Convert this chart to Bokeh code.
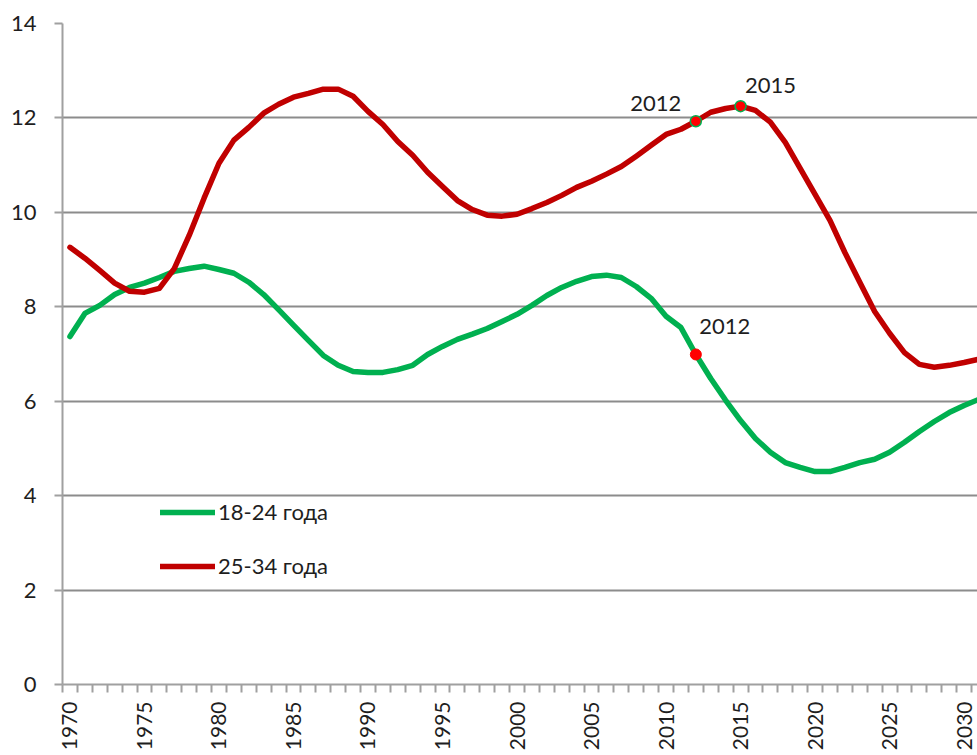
from bokeh.plotting import figure
from bokeh.models import Range1d, FixedTicker, Legend, LegendItem, ColumnDataSource
from bokeh.core.properties import value
from bokeh.embed import file_html
from bokeh.resources import INLINE
import math

years = list(range(1970, 2032))
age_18_24 = [7.37, 7.86, 8.03, 8.26, 8.41, 8.50, 8.62, 8.75, 8.81, 8.86,
             8.79, 8.71, 8.52, 8.26, 7.94, 7.61, 7.29, 6.97, 6.76, 6.63,
             6.61, 6.61, 6.67, 6.76, 6.99, 7.16, 7.31, 7.42, 7.54, 7.69,
             7.84, 8.03, 8.24, 8.41, 8.54, 8.64, 8.67, 8.62, 8.43, 8.18,
             7.80, 7.56, 6.99, 6.48, 6.02, 5.59, 5.21, 4.92, 4.70, 4.60,
             4.51, 4.51, 4.60, 4.70, 4.77, 4.92, 5.13, 5.36, 5.57, 5.76,
             5.91, 6.04]
age_25_34 = [9.26, 9.03, 8.77, 8.50, 8.33, 8.31, 8.39, 8.81, 9.51, 10.30,
             11.04, 11.53, 11.80, 12.10, 12.29, 12.44, 12.52, 12.61, 12.61, 12.46,
             12.14, 11.86, 11.50, 11.21, 10.85, 10.55, 10.25, 10.06, 9.94, 9.92,
             9.96, 10.08, 10.21, 10.36, 10.53, 10.66, 10.81, 10.97, 11.19, 11.42,
             11.65, 11.76, 11.93, 12.12, 12.20, 12.25, 12.16, 11.91, 11.48, 10.93,
             10.38, 9.83, 9.15, 8.52, 7.90, 7.44, 7.03, 6.78, 6.72, 6.76,
             6.82, 6.89]
series_names = ["18-24 года", "25-34 года"]
marked_years_25_34 = [2012, 2015]
marked_years_18_24 = [2012]
y_ticks = [0, 2, 4, 6, 8, 10, 12, 14]
x_label_years = list(range(1970, 2031, 5))

FONT = "Lato"
TXT = "#1e1e1e"
GREEN = "#00B050"
RED = "#C00000"
GRID = "#8c8c8c"
FS = "22px"

p = figure(width=977, height=755, output_backend="svg", toolbar_location=None,
           x_range=Range1d(1969.5, 2030.9), y_range=Range1d(0, 14),
           min_border_left=62, min_border_top=23, min_border_right=0, min_border_bottom=71)
p.outline_line_color = None
p.background_fill_color = "white"

# axes
p.xaxis.ticker = FixedTicker(ticks=x_label_years, minor_ticks=[y - 0.5 for y in years])
p.xaxis.major_tick_out = 0
p.xaxis.major_tick_in = 0
p.xaxis.minor_tick_out = 8
p.xaxis.minor_tick_in = 0
p.xaxis.minor_tick_line_color = "#a0a0a0"
p.xaxis.minor_tick_line_width = 2
p.xaxis.axis_line_color = "#a0a0a0"
p.xaxis.axis_line_width = 2
p.xaxis.major_label_orientation = math.pi / 2
p.xaxis.major_label_standoff = 9
p.xaxis.major_label_text_font = FONT
p.xaxis.major_label_text_font_size = "21px"
p.xaxis.major_label_text_color = TXT

p.yaxis.ticker = FixedTicker(ticks=y_ticks)
p.yaxis.major_tick_out = 8
p.yaxis.major_tick_in = 0
p.yaxis.minor_tick_out = 0
p.yaxis.minor_tick_in = 0
p.yaxis.major_tick_line_color = "#a0a0a0"
p.yaxis.major_tick_line_width = 2
p.yaxis.axis_line_color = "#a0a0a0"
p.yaxis.axis_line_width = 2
p.yaxis.major_label_standoff = 18
p.yaxis.major_label_text_font = FONT
p.yaxis.major_label_text_font_size = FS
p.yaxis.major_label_text_color = TXT

p.xgrid.grid_line_color = None
p.ygrid.grid_line_color = GRID
p.ygrid.grid_line_width = 2
p.ygrid.ticker = FixedTicker(ticks=y_ticks)

src = ColumnDataSource(dict(x=years, g=age_18_24, r=age_25_34))
lg = p.line("x", "g", source=src, line_color=GREEN, line_width=5.5, line_join="round", line_cap="round")
lr = p.line("x", "r", source=src, line_color=RED, line_width=5.5, line_join="round", line_cap="round")

# markers
r_vals = [age_25_34[years.index(y)] for y in marked_years_25_34]
g_vals = [age_18_24[years.index(y)] for y in marked_years_18_24]
p.scatter(marked_years_25_34, r_vals, size=11, fill_color="#FF0000",
          line_color=GREEN, line_width=1.5)
p.scatter(marked_years_18_24, g_vals, size=11, fill_color="#FF0000",
          line_color="#FF0000", line_width=1)

# point labels
p.text(marked_years_25_34, r_vals, text=[str(y) for y in marked_years_25_34],
       x_offset=[-40, 30], y_offset=[-18, -21],
       text_align="center", text_baseline="middle",
       text_font=value(FONT), text_font_size=FS, text_color=TXT)
p.text(marked_years_18_24, g_vals, text=[str(y) for y in marked_years_18_24],
       x_offset=[29], y_offset=[-28],
       text_align="center", text_baseline="middle",
       text_font=value(FONT), text_font_size=FS, text_color=TXT)

legend = Legend(items=[LegendItem(label=series_names[0], renderers=[lg]),
                       LegendItem(label=series_names[1], renderers=[lr])],
                location=(98, 105), orientation="vertical",
                glyph_width=55, glyph_height=20, label_height=20, spacing=27,
                label_standoff=3, padding=0, margin=0,
                label_text_font=FONT, label_text_font_size=FS, label_text_color=TXT,
                background_fill_alpha=0, border_line_color=None)
p.add_layout(legend)

open("out.html", "w").write(file_html(p, INLINE))
